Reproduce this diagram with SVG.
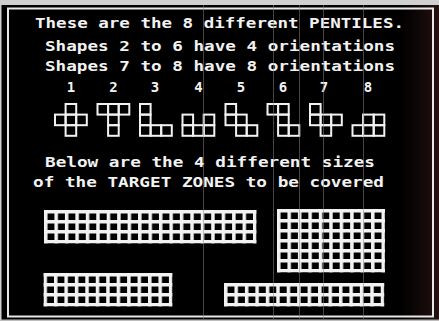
<svg xmlns="http://www.w3.org/2000/svg" width="439" height="321" viewBox="0 0 439 321">
  <style>
    .t { font-family: "DejaVu Sans Mono", "Liberation Mono", monospace; font-weight: bold; font-size: 14px; fill: #f2f2f2; }
    .n { text-anchor: middle; }
    .cell { fill: none; stroke: #f2f2f2; stroke-width: 2; }
    .scan { stroke: #8a8a8a; stroke-width: 1; opacity: 0.5; }
  </style>
  <defs>
    <pattern id="cells" patternUnits="userSpaceOnUse" x="0" y="0" width="10.45" height="10">
      <rect x="0" y="0" width="10.45" height="10" fill="#f2f2f2"/>
      <rect x="3.5" y="3.5" width="6.95" height="6.5" fill="#000"/>
    </pattern>
    <linearGradient id="tint" x1="0" y1="0" x2="1" y2="0">
      <stop offset="0" stop-color="#1e0e0e" stop-opacity="0"/>
      <stop offset="1" stop-color="#2a1212" stop-opacity="0.9"/>
    </linearGradient>
  </defs>

  <!-- screen background -->
  <rect x="0" y="0" width="439" height="321" fill="#000"/>
  <rect x="400" y="5" width="39" height="314" fill="url(#tint)"/>
  <rect x="0" y="0" width="439" height="5" fill="#d0d0d0"/>
  <rect x="0" y="0" width="1.5" height="321" fill="#cfcfcf"/>
  <rect x="0" y="319.5" width="439" height="1.5" fill="#bdbdbd"/>
  <rect id="frame" x="8" y="8.5" width="425" height="308" fill="none" stroke="#e8e8e8" stroke-width="2"/>

  <!-- title texts -->
  <g id="heading">
    <text class="t" x="35" y="28" textLength="369" lengthAdjust="spacingAndGlyphs">These are the 8 different PENTILES.</text>
    <text class="t" x="45" y="50.5" textLength="350" lengthAdjust="spacingAndGlyphs">Shapes 2 to 6 have 4 orientations</text>
    <text class="t" x="45" y="71" textLength="350" lengthAdjust="spacingAndGlyphs">Shapes 7 to 8 have 8 orientations</text>
  </g>

  <!-- pentiles -->
  <g id="pentile-1">
    <text class="t n" x="71" y="92">1</text>
    <g transform="translate(55,104)">
      <rect class="cell" x="10.6" y="0" width="10.6" height="10.6"/>
      <rect class="cell" x="0" y="10.6" width="10.6" height="10.6"/>
      <rect class="cell" x="10.6" y="10.6" width="10.6" height="10.6"/>
      <rect class="cell" x="21.2" y="10.6" width="10.6" height="10.6"/>
      <rect class="cell" x="10.6" y="21.2" width="10.6" height="10.6"/>
    </g>
  </g>
  <g id="pentile-2">
    <text class="t n" x="113.5" y="92">2</text>
    <g transform="translate(97.5,104)">
      <rect class="cell" x="0" y="0" width="10.6" height="10.6"/>
      <rect class="cell" x="10.6" y="0" width="10.6" height="10.6"/>
      <rect class="cell" x="21.2" y="0" width="10.6" height="10.6"/>
      <rect class="cell" x="10.6" y="10.6" width="10.6" height="10.6"/>
      <rect class="cell" x="10.6" y="21.2" width="10.6" height="10.6"/>
    </g>
  </g>
  <g id="pentile-3">
    <text class="t n" x="155" y="92">3</text>
    <g transform="translate(140,104)">
      <rect class="cell" x="0" y="0" width="10.6" height="10.6"/>
      <rect class="cell" x="0" y="10.6" width="10.6" height="10.6"/>
      <rect class="cell" x="0" y="21.2" width="10.6" height="10.6"/>
      <rect class="cell" x="10.6" y="21.2" width="10.6" height="10.6"/>
      <rect class="cell" x="21.2" y="21.2" width="10.6" height="10.6"/>
    </g>
  </g>
  <g id="pentile-4">
    <text class="t n" x="198.5" y="92">4</text>
    <g transform="translate(182.5,104)">
      <rect class="cell" x="0" y="10.6" width="10.6" height="10.6"/>
      <rect class="cell" x="21.2" y="10.6" width="10.6" height="10.6"/>
      <rect class="cell" x="0" y="21.2" width="10.6" height="10.6"/>
      <rect class="cell" x="10.6" y="21.2" width="10.6" height="10.6"/>
      <rect class="cell" x="21.2" y="21.2" width="10.6" height="10.6"/>
    </g>
  </g>
  <g id="pentile-5">
    <text class="t n" x="241" y="92">5</text>
    <g transform="translate(225.5,104)">
      <rect class="cell" x="0" y="0" width="10.6" height="10.6"/>
      <rect class="cell" x="0" y="10.6" width="10.6" height="10.6"/>
      <rect class="cell" x="10.6" y="10.6" width="10.6" height="10.6"/>
      <rect class="cell" x="10.6" y="21.2" width="10.6" height="10.6"/>
      <rect class="cell" x="21.2" y="21.2" width="10.6" height="10.6"/>
    </g>
  </g>
  <g id="pentile-6">
    <text class="t n" x="283" y="92">6</text>
    <g transform="translate(267.5,104)">
      <rect class="cell" x="0" y="0" width="10.6" height="10.6"/>
      <rect class="cell" x="10.6" y="0" width="10.6" height="10.6"/>
      <rect class="cell" x="10.6" y="10.6" width="10.6" height="10.6"/>
      <rect class="cell" x="10.6" y="21.2" width="10.6" height="10.6"/>
      <rect class="cell" x="21.2" y="21.2" width="10.6" height="10.6"/>
    </g>
  </g>
  <g id="pentile-7">
    <text class="t n" x="324" y="92">7</text>
    <g transform="translate(310,104)">
      <rect class="cell" x="0" y="0" width="10.6" height="10.6"/>
      <rect class="cell" x="0" y="10.6" width="10.6" height="10.6"/>
      <rect class="cell" x="10.6" y="10.6" width="10.6" height="10.6"/>
      <rect class="cell" x="21.2" y="10.6" width="10.6" height="10.6"/>
      <rect class="cell" x="10.6" y="21.2" width="10.6" height="10.6"/>
    </g>
  </g>
  <g id="pentile-8">
    <text class="t n" x="368" y="92">8</text>
    <g transform="translate(352.5,104)">
      <rect class="cell" x="10.6" y="10.6" width="10.6" height="10.6"/>
      <rect class="cell" x="21.2" y="10.6" width="10.6" height="10.6"/>
      <rect class="cell" x="0" y="21.2" width="10.6" height="10.6"/>
      <rect class="cell" x="10.6" y="21.2" width="10.6" height="10.6"/>
      <rect class="cell" x="21.2" y="21.2" width="10.6" height="10.6"/>
    </g>
  </g>

  <g id="zones-heading">
    <text class="t" x="45" y="166.5" textLength="330" lengthAdjust="spacingAndGlyphs">Below are the 4 different sizes</text>
    <text class="t" x="33" y="187" textLength="351" lengthAdjust="spacingAndGlyphs">of the TARGET ZONES to be covered</text>
  </g>

  <!-- target zones -->
  <g id="zone-20x3" transform="translate(44,210)">
    <rect x="0" y="0" width="212.5" height="33.5" fill="url(#cells)"/>
  </g>
  <g id="zone-10x6" transform="translate(277,209)">
    <rect x="0" y="0" width="108" height="63.5" fill="url(#cells)"/>
  </g>
  <g id="zone-12x3" transform="translate(43.5,273)">
    <rect x="0" y="0" width="128.9" height="33.5" fill="url(#cells)"/>
  </g>
  <g id="zone-15x2" transform="translate(224,283)">
    <rect x="0" y="0" width="160.25" height="23.5" fill="url(#cells)"/>
  </g>

  <!-- faint scan lines of the photograph -->
  <g id="scanlines">
    <line class="scan" x1="203.5" y1="5" x2="203.5" y2="319"/>
    <line class="scan" x1="273.5" y1="5" x2="273.5" y2="319"/>
    <line class="scan" x1="299.5" y1="5" x2="299.5" y2="319"/>
    <line class="scan" x1="323.5" y1="5" x2="323.5" y2="319"/>
    <line class="scan" x1="363.5" y1="5" x2="363.5" y2="319"/>
  </g>
</svg>
